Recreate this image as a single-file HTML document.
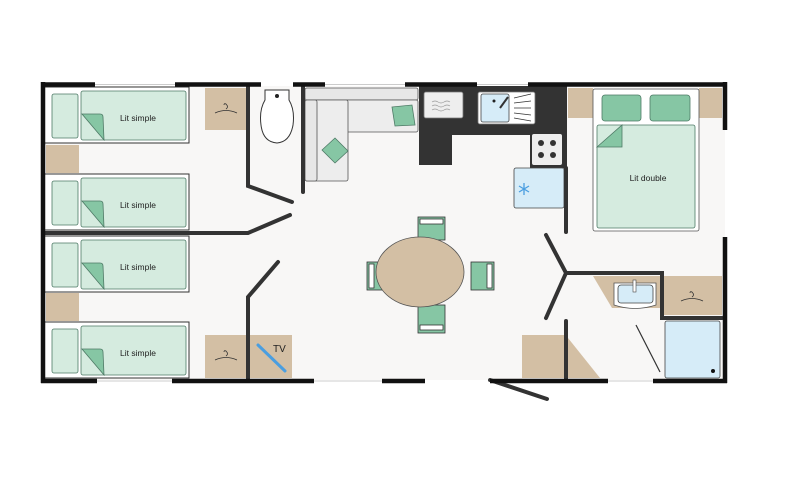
<!DOCTYPE html>
<html><head><meta charset="utf-8"><style>
html,body{margin:0;padding:0;background:#fff;width:800px;height:500px;overflow:hidden}
svg{display:block}
text{font-family:"Liberation Sans",sans-serif;font-size:8.5px;fill:#222}
</style></head><body>
<svg width="800" height="500" viewBox="0 0 800 500">
<defs>
<g id="sbed">
 <rect x="43" y="0" width="146" height="56" fill="#fff" stroke="#333" stroke-width="1"/>
 <rect x="52" y="7" width="26" height="44" rx="2" fill="#d5ebdf" stroke="#4e7a66" stroke-width="0.8"/>
 <rect x="81" y="4" width="105" height="49" rx="2" fill="#d5ebdf" stroke="#4e7a66" stroke-width="0.8"/>
 <path d="M82,27 L100,27 Q103,27 103,30 L104,53 Z" fill="#86c6a4" stroke="#4e7a66" stroke-width="0.8"/>
 <text x="138" y="34" text-anchor="middle">Lit simple</text>
</g>
<g id="hanger"><path d="M-11,5 Q0,0 11,5 M0,1 q3,-2 0,-5 q-2,-1 -2,1" fill="none" stroke="#333" stroke-width="0.8"/></g>
</defs>
<rect x="43" y="86" width="682" height="294" fill="#f8f7f6"/>
<use href="#sbed" y="87"/>
<use href="#sbed" y="174"/>
<use href="#sbed" y="236"/>
<use href="#sbed" y="322"/>
<rect x="46" y="145" width="33" height="28" fill="#d3bfa4"/>
<rect x="46" y="293" width="33" height="28" fill="#d3bfa4"/>
<rect x="205" y="88" width="42" height="42" fill="#d3bfa4"/>
<use href="#hanger" x="226" y="108"/>
<rect x="205" y="335" width="43" height="43" fill="#d3bfa4"/>
<use href="#hanger" x="226" y="355"/>
<rect x="250" y="335" width="42" height="43" fill="#d3bfa4"/>
<line x1="258" y1="345" x2="285" y2="371" stroke="#4a9ee0" stroke-width="3" stroke-linecap="round"/>
<text x="273" y="352" style="font-size:10px">TV</text>
<path d="M265,90 L289,90 L289,100 Q295,110 293,125 Q290,142 277,143 Q263,142 261,125 Q259,110 265,100 Z" fill="#fff" stroke="#333" stroke-width="1"/>
<circle cx="277" cy="96" r="2" fill="#222"/>
<rect x="305" y="88" width="113" height="12" rx="2" fill="#e7e7e7" stroke="#555" stroke-width="0.8"/>
<rect x="305" y="100" width="113" height="32" rx="2" fill="#ededed" stroke="#555" stroke-width="0.8"/>
<rect x="305" y="100" width="43" height="81" rx="2" fill="#ededed" stroke="#555" stroke-width="0.8"/>
<rect x="305" y="100" width="12" height="81" rx="2" fill="#e7e7e7" stroke="#555" stroke-width="0.8"/>
<path d="M392,107 L412,105 L415,125 L395,126 Z" fill="#86c6a4" stroke="#4e7a66" stroke-width="0.8"/>
<path d="M322,150 L335,138 L348,151 L335,163 Z" fill="#86c6a4" stroke="#4e7a66" stroke-width="0.8"/>
<path d="M419,86 L567,86 L567,168 L530,168 L530,135 L452,135 L452,165 L419,165 Z" fill="#333"/>
<rect x="424" y="92" width="39" height="26" rx="2" fill="#eee" stroke="#777" stroke-width="0.8"/>
<path d="M432,102 q3,-2 6,0 q3,2 6,0 q3,-2 6,0 M432,106 q3,-2 6,0 q3,2 6,0 q3,-2 6,0 M432,110 q3,-2 6,0 q3,2 6,0 q3,-2 6,0" fill="none" stroke="#999" stroke-width="0.7"/>
<rect x="478" y="92" width="57" height="32" rx="2" fill="#fff" stroke="#777" stroke-width="0.8"/>
<rect x="481" y="94" width="28" height="28" rx="2" fill="#d6ecf8" stroke="#444" stroke-width="0.8"/>
<circle cx="494" cy="101" r="1.5" fill="#222"/>
<line x1="500" y1="108" x2="508" y2="97" stroke="#333" stroke-width="2"/>
<path d="M514,98 L531,94 M514,103 L531,101 M514,108 L531,108 M514,113 L531,115 M514,118 L531,121" stroke="#333" stroke-width="0.8"/>
<rect x="532" y="134" width="30" height="31" rx="2" fill="#eee"/>
<g fill="#333"><circle cx="541" cy="143" r="3"/><circle cx="553" cy="143" r="3"/><circle cx="541" cy="155" r="3"/><circle cx="553" cy="155" r="3"/></g>
<rect x="514" y="168" width="50" height="40" rx="2" fill="#d6ecf8" stroke="#444" stroke-width="0.8"/>
<g stroke="#4a9ee0" stroke-width="1.3"><line x1="524" y1="183" x2="524" y2="195"/><line x1="519" y1="186" x2="529" y2="192"/><line x1="519" y1="192" x2="529" y2="186"/></g>
<g fill="#86c6a4" stroke="#333" stroke-width="0.8">
<rect x="418" y="217" width="27" height="23"/><rect x="418" y="305" width="27" height="28"/>
<rect x="367" y="262" width="23" height="28"/><rect x="471" y="262" width="23" height="28"/></g>
<g fill="#fff" stroke="#333" stroke-width="0.8">
<rect x="420" y="219" width="23" height="5"/><rect x="420" y="325" width="23" height="5"/>
<rect x="369" y="264" width="5" height="24"/><rect x="487" y="264" width="5" height="24"/></g>
<ellipse cx="420" cy="272" rx="44" ry="35" fill="#d3bfa4" stroke="#555" stroke-width="0.8"/>
<rect x="568" y="88" width="25" height="30" fill="#d3bfa4"/>
<rect x="699" y="88" width="23" height="30" fill="#d3bfa4"/>
<rect x="593" y="89" width="106" height="142" rx="2" fill="#fff" stroke="#555" stroke-width="0.8"/>
<rect x="602" y="95" width="39" height="26" rx="3" fill="#86c6a4" stroke="#4e7a66" stroke-width="0.8"/>
<rect x="650" y="95" width="40" height="26" rx="3" fill="#86c6a4" stroke="#4e7a66" stroke-width="0.8"/>
<rect x="597" y="125" width="98" height="103" rx="2" fill="#d5ebdf" stroke="#4e7a66" stroke-width="0.8"/>
<path d="M597,147 L622,125 L622,147 Z" fill="#86c6a4" stroke="#4e7a66" stroke-width="0.8"/>
<text x="648" y="181" text-anchor="middle">Lit double</text>
<path d="M593,276 L660,276 L660,308 L612,308 Z" fill="#d3bfa4"/>
<path d="M614,283 L656,283 L656,305 Q635,312 614,305 Z" fill="#fff" stroke="#555" stroke-width="0.8"/>
<rect x="618" y="285" width="35" height="18" rx="3" fill="#d6ecf8" stroke="#444" stroke-width="0.8"/>
<rect x="633" y="280" width="3" height="12" fill="#fff" stroke="#444" stroke-width="0.6"/>
<rect x="662" y="276" width="60" height="39" fill="#d3bfa4"/>
<use href="#hanger" x="692" y="296"/>
<rect x="665" y="321" width="55" height="57" rx="2" fill="#d6ecf8" stroke="#444" stroke-width="0.8"/>
<circle cx="713" cy="371" r="2" fill="#111"/>
<line x1="636" y1="325" x2="660" y2="372" stroke="#333" stroke-width="1.2"/>
<rect x="522" y="335" width="44" height="43" fill="#d3bfa4"/>
<path d="M568,338 L600,378 L568,378 Z" fill="#d3bfa4"/>
<g stroke="#333" stroke-width="4" fill="none" stroke-linecap="round">
<path d="M248,86 L248,186 L292,202"/>
<path d="M43,233 L248,233 L290,215"/>
<path d="M278,262 L248,297 L248,380"/>
<path d="M303,86 L303,192"/>
<path d="M566,168 L566,232"/>
<path d="M546,235 L566,273 L546,318"/>
<path d="M566,273 L662,273 L662,318 L722,318"/>
<path d="M566,321 L566,380"/>
<path d="M490,380 L547,399"/>
</g>
<g stroke="#111" stroke-width="4.5" fill="none">
<line x1="43" y1="82" x2="43" y2="383"/>
<line x1="725" y1="82" x2="725" y2="130"/>
<line x1="725" y1="237" x2="725" y2="383"/>
<line x1="41" y1="84.5" x2="95" y2="84.5"/>
<line x1="175" y1="84.5" x2="261" y2="84.5"/>
<line x1="293" y1="84.5" x2="325" y2="84.5"/>
<line x1="405" y1="84.5" x2="477" y2="84.5"/>
<line x1="528" y1="84.5" x2="727" y2="84.5"/>
<line x1="41" y1="381" x2="97" y2="381"/>
<line x1="172" y1="381" x2="314" y2="381"/>
<line x1="382" y1="381" x2="425" y2="381"/>
<line x1="490" y1="381" x2="608" y2="381"/>
<line x1="653" y1="381" x2="727" y2="381"/>
</g>
<g stroke="#ccc" stroke-width="1">
<line x1="95" y1="84.5" x2="175" y2="84.5"/><line x1="325" y1="84.5" x2="405" y2="84.5"/><line x1="477" y1="84.5" x2="528" y2="84.5"/>
<line x1="97" y1="381" x2="172" y2="381"/><line x1="314" y1="381" x2="382" y2="381"/><line x1="608" y1="381" x2="653" y2="381"/>
</g>
</svg>
</body></html>
